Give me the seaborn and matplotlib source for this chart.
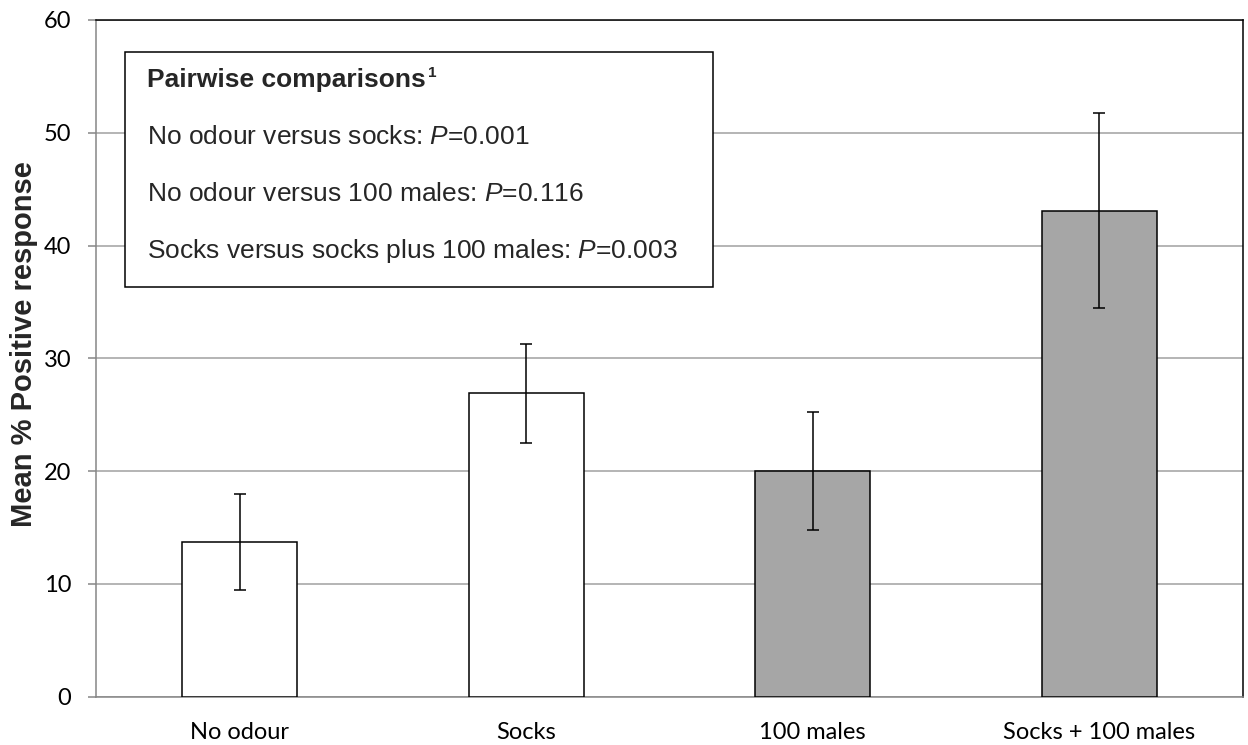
import matplotlib
matplotlib.use("Agg")
import matplotlib.pyplot as plt
import seaborn as sns
import numpy as np
import pandas as pd

# Mean % positive response per odour treatment, with error bars
categories = ["No odour", "Socks", "100 males", "Socks + 100 males"]
means = [13.7, 26.9, 20.0, 43.1]
errors = [4.25, 4.4, 5.25, 8.65]
bar_colors = ["#ffffff", "#ffffff", "#a6a6a6", "#a6a6a6"]

comparison_title = "Pairwise comparisons"
comparison_lines = [
    "No odour versus socks: $P$=0.001",
    "No odour versus 100 males: $P$=0.116",
    "Socks versus socks plus 100 males: $P$=0.003",
]

sns.set_style("white")
plt.rcParams["font.family"] = ["Lato", "DejaVu Sans"]
plt.rcParams["mathtext.fontset"] = "custom"
plt.rcParams["mathtext.rm"] = "Liberation Sans"
plt.rcParams["mathtext.it"] = "Liberation Sans:italic"
plt.rcParams["mathtext.bf"] = "Liberation Sans:bold"

W, H = 1248, 745
fig = plt.figure(figsize=(W / 100, H / 100), dpi=100)
ax_left, ax_right, ax_top, ax_bottom = 96.3, 1242.7, 20.0, 696.7
ax = fig.add_axes([ax_left / W, 1 - ax_bottom / H,
                   (ax_right - ax_left) / W, (ax_bottom - ax_top) / H])

df = pd.DataFrame({"category": categories, "mean": means})
sns.barplot(data=df, x="category", y="mean", hue="category",
            palette=dict(zip(categories, bar_colors)), order=categories,
            edgecolor="black", linewidth=1.1, width=0.4, legend=False,
            ax=ax, zorder=3)

xpos = np.arange(len(categories))
ax.errorbar(xpos, means, yerr=errors, fmt="none", ecolor="black",
            elinewidth=1.1, capsize=4.6, capthick=1.1, zorder=4)

ax.set_xlim(-0.5, len(categories) - 0.5)
ax.set_ylim(0, 60)
ax.set_yticks(np.arange(0, 61, 10))
ax.yaxis.grid(True, color="#a0a0a0", linewidth=1.1, zorder=0)
ax.xaxis.grid(False)
ax.set_axisbelow(True)

grey = "#868686"
ax.spines["left"].set_color(grey)
ax.spines["bottom"].set_color(grey)
ax.spines["top"].set_color("black")
ax.spines["right"].set_color("black")
for s in ax.spines.values():
    s.set_linewidth(1.1)
    s.set_visible(True)

# category boundaries carry the x ticks; labels sit between them
ax.set_xticks(np.arange(-0.5, len(categories)), labels=[""] * (len(categories) + 1))
ax.set_xticks(xpos, labels=categories, minor=True)
ax.tick_params(axis="x", which="major", length=6, width=1.1, color=grey, direction="out")
ax.tick_params(axis="x", which="minor", length=0, pad=18, labelsize=17, labelcolor="black")
ax.tick_params(axis="y", which="major", length=6, width=1.1, color=grey,
               direction="out", left=True, pad=12, labelsize=17, labelcolor="black")
ax.set_xlabel("")
ax.set_ylabel("")

fig.text(24 / W, 1 - 344 / H, "Mean % Positive response", rotation=90,
         ha="center", va="center", fontsize=21, fontweight="bold",
         family=["Liberation Sans", "DejaVu Sans"])

# statistics box
box_l, box_t, box_r, box_b = 125.3, 51.7, 712.5, 287.3
ax.add_patch(plt.Rectangle((box_l / W, 1 - box_b / H), (box_r - box_l) / W,
                           (box_b - box_t) / H, transform=fig.transFigure,
                           facecolor="white", edgecolor="black", linewidth=1.1,
                           zorder=6, clip_on=False))
tx = 147 / W
title = fig.text(tx, 1 - 87.5 / H, comparison_title, ha="left", va="baseline",
                 fontsize=19, fontweight="bold",
                 family=["Liberation Sans", "DejaVu Sans"], zorder=7)
fig.canvas.draw()
bb = title.get_window_extent()
fig.text((bb.x1 + 2) / W, 1 - 77 / H, "1", ha="left", va="baseline",
         fontsize=11, fontweight="bold",
         family=["Liberation Sans", "DejaVu Sans"], zorder=7)
for i, line in enumerate(comparison_lines):
    fig.text(tx, 1 - (144 + 57 * i) / H, line, ha="left", va="baseline",
             fontsize=19, family=["Liberation Sans", "DejaVu Sans"], zorder=7)

fig.savefig("out.png", dpi=100)
